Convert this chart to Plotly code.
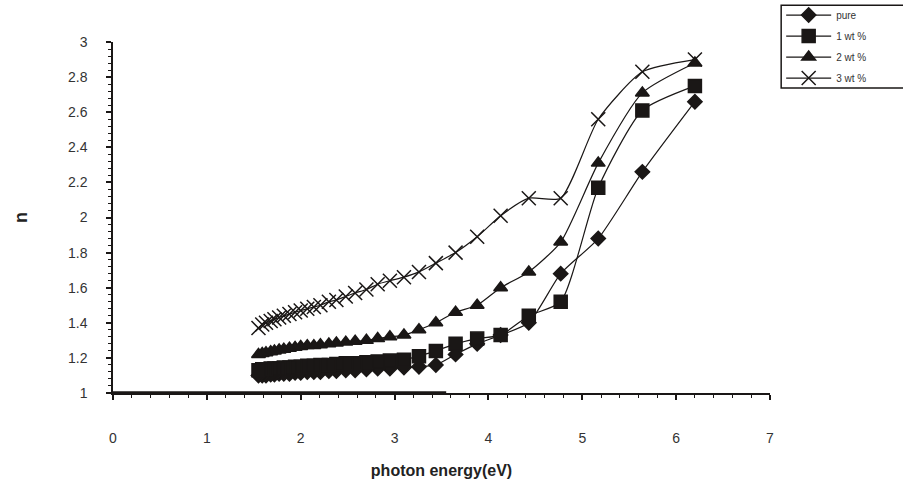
import plotly.graph_objects as go

# photon energy (eV)
energy = [6.20, 5.64, 5.17, 4.77, 4.43, 4.13, 3.88, 3.65, 3.44, 3.26, 3.10,
          2.95, 2.82, 2.70, 2.58, 2.48, 2.38, 2.30, 2.21, 2.14, 2.07, 2.00,
          1.94, 1.88, 1.82, 1.77, 1.72, 1.68, 1.63, 1.59, 1.55]

n_pure = [2.66, 2.26, 1.88, 1.68, 1.40, 1.33, 1.28, 1.22, 1.16, 1.15, 1.145,
          1.14, 1.14, 1.135, 1.13, 1.13, 1.125, 1.125, 1.12, 1.12, 1.12, 1.115,
          1.115, 1.11, 1.11, 1.11, 1.105, 1.105, 1.10, 1.10, 1.10]

n_1wt = [2.75, 2.61, 2.17, 1.52, 1.44, 1.33, 1.31, 1.28, 1.24, 1.21, 1.19,
         1.185, 1.18, 1.175, 1.17, 1.17, 1.165, 1.16, 1.16, 1.155, 1.155, 1.15,
         1.15, 1.145, 1.145, 1.14, 1.14, 1.14, 1.135, 1.135, 1.13]

n_2wt = [2.88, 2.71, 2.31, 1.86, 1.69, 1.60, 1.50, 1.46, 1.40, 1.36, 1.33,
         1.32, 1.31, 1.30, 1.295, 1.29, 1.285, 1.28, 1.275, 1.27, 1.27, 1.265,
         1.26, 1.255, 1.25, 1.245, 1.24, 1.235, 1.23, 1.225, 1.22]

n_3wt = [2.90, 2.83, 2.56, 2.11, 2.11, 2.01, 1.89, 1.80, 1.74, 1.69, 1.66,
         1.64, 1.62, 1.59, 1.57, 1.55, 1.53, 1.52, 1.50, 1.49, 1.48, 1.47,
         1.46, 1.45, 1.44, 1.43, 1.42, 1.41, 1.40, 1.39, 1.37]

baseline_x = [0, 3.55]
baseline_y = [1, 1]

names = ["pure", "1 wt %", "2 wt %", "3 wt %"]
series = [n_pure, n_1wt, n_2wt, n_3wt]
symbols = ["diamond", "square", "triangle-up", "x-thin-open"]
sizes = [11, 13, 12, 14]

INK = "#1a1716"
FONT = "Liberation Sans, Arial, sans-serif"

fig = go.Figure()
fig.add_trace(go.Scatter(x=baseline_x, y=baseline_y, mode="lines",
                         line=dict(color=INK, width=3.5), showlegend=False,
                         hoverinfo="skip"))
for name, ys, sym, sz in zip(names, series, symbols, sizes):
    fig.add_trace(go.Scatter(
        x=energy, y=ys, name=name, mode="lines+markers", legendgroup=name,
        line=dict(color=INK, width=1.2, shape="spline", smoothing=0.6),
        marker=dict(symbol=sym, size=sz, color=INK,
                    line=dict(color=INK, width=1.5)),
    ))

axis_font = dict(family=FONT, size=14, color="#333")

# legend frame (extends beyond the right edge, as in the original)
fig.add_shape(type="rect", xref="paper", yref="paper",
              x0=1.017, x1=1.21, y0=0.869, y1=1.105,
              line=dict(color=INK, width=1.5), fillcolor="rgba(0,0,0,0)",
              layer="above")

fig.update_layout(
    width=903, height=489,
    margin=dict(l=113, r=133, t=42, b=96, autoexpand=False),
    paper_bgcolor="white", plot_bgcolor="white",
    showlegend=True,
    legend=dict(
        x=1.017, y=1.118, xanchor="left", yanchor="top",
        borderwidth=0, bgcolor="rgba(0,0,0,0)",
        font=dict(family=FONT, size=10, color="#333"),
        itemwidth=45, tracegroupgap=2,
    ),
    xaxis=dict(
        range=[0, 7], tickmode="linear", tick0=0, dtick=1,
        showgrid=False, zeroline=False,
        showline=True, linecolor=INK, linewidth=1.5,
        ticks="outside", ticklen=5, tickwidth=1.5, tickcolor=INK,
        minor=dict(dtick=0.2, ticks="outside", ticklen=3, tickwidth=1, tickcolor=INK),
        tickfont=axis_font, ticklabelstandoff=26,
        title=dict(text="<b>photon energy(eV)</b>",
                   font=dict(family=FONT, size=16, color="#222"),
                   standoff=20),
    ),
    yaxis=dict(
        range=[1, 3], tickmode="linear", tick0=1, dtick=0.2,
        showgrid=False, zeroline=False,
        showline=True, linecolor=INK, linewidth=1.5,
        ticks="outside", ticklen=5, tickwidth=1.5, tickcolor=INK,
        minor=dict(dtick=0.04, ticks="outside", ticklen=3, tickwidth=1, tickcolor=INK),
        tickfont=axis_font, ticklabelstandoff=16,
        title=dict(text="<b>n</b>",
                   font=dict(family=FONT, size=18, color="#222"),
                   standoff=36),
    ),
)

fig.write_html("out.html")
